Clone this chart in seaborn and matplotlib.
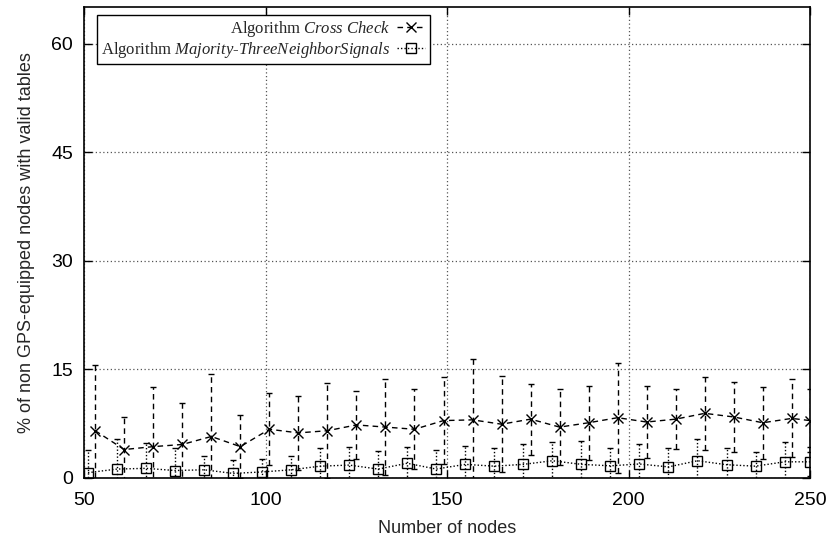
"""   Percentage of non GPS-equipped nodes with valid tables vs. number of nodes   """
import matplotlib
matplotlib.use('Agg')
import matplotlib.pyplot as plt
import numpy as np
import pandas as pd
import seaborn as sns


# ~~~~~~~  Data  ~~~~~~~ ~~~~~~~~~~~~~ ~~~~~~~ ~ #
x_cross = [53, 61, 69, 77, 85, 93, 101, 109, 117, 125, 133, 141, 149,
           157, 165, 173, 181, 189, 197, 205, 213, 221, 229, 237, 245, 250]
cross_mean = [6.5, 3.9, 4.3, 4.6, 5.7, 4.3, 6.7, 6.2, 6.5, 7.3, 7.0, 6.7, 7.9,
              8.0, 7.4, 8.1, 7.0, 7.6, 8.3, 7.7, 8.1, 8.9, 8.4, 7.6, 8.2, 7.9]
cross_sd = [9.1, 4.5, 8.2, 5.7, 8.7, 4.4, 5.0, 5.1, 6.6, 4.7, 6.6, 5.5, 6.0,
            8.4, 6.6, 4.9, 5.2, 5.1, 7.6, 5.0, 4.1, 5.0, 4.9, 5.0, 5.4, 4.3]

x_major = [51, 59, 67, 75, 83, 91, 99, 107, 115, 123, 131, 139, 147,
           155, 163, 171, 179, 187, 195, 203, 211, 219, 227, 235, 243, 250]
major_mean = [0.7, 1.2, 1.3, 1.0, 1.1, 0.6, 0.8, 1.1, 1.6, 1.75, 1.2, 2.0, 1.2,
              1.85, 1.6, 1.85, 2.35, 1.85, 1.65, 1.9, 1.5, 2.35, 1.8, 1.6, 2.2, 2.2]
major_sd = [3.1, 4.1, 3.5, 3.1, 1.9, 1.8, 1.8, 1.9, 2.5, 2.55, 2.5, 2.3, 2.6,
            2.55, 2.5, 2.75, 2.65, 3.25, 2.45, 2.75, 2.55, 3.0, 2.35, 2.0, 2.8, 2.0]

label_cross = r'Algorithm $\mathit{Cross\ Check}$'
label_major = r'Algorithm $\mathit{Majority}$-$\mathit{ThreeNeighborSignals}$'

x_ticks = [50, 100, 150, 200, 250]
y_ticks = [0, 15, 30, 45, 60]


# ~~~~~~~  Style  ~~~~~~~ ~~~~~~~~~~~~~ ~~~~~~~ ~ #
sns.set_style('ticks')
plt.rcParams['font.family'] = ['Liberation Sans', 'DejaVu Sans']
plt.rcParams['mathtext.fontset'] = 'custom'
plt.rcParams['mathtext.rm'] = 'Liberation Serif'
plt.rcParams['mathtext.it'] = 'Liberation Serif:italic'

fig = plt.figure(figsize=(8.35, 5.46), dpi=100)
ax = fig.add_axes([0.101, 0.125, 0.869, 0.8615])

df_cross = pd.DataFrame({'x': x_cross, 'y': cross_mean})
df_major = pd.DataFrame({'x': x_major, 'y': major_mean})

# error bars first (drawn under the lines)
eb = ax.errorbar(x_cross, cross_mean, yerr=cross_sd, fmt='none', ecolor='black',
                 elinewidth=1, capsize=2.5, capthick=1)
eb.lines[2][0].set_linestyle((0, (4, 3)))
eb = ax.errorbar(x_major, major_mean, yerr=major_sd, fmt='none', ecolor='black',
                 elinewidth=1, capsize=2.5, capthick=1)
eb.lines[2][0].set_linestyle((0, (1, 1.5)))

# mean lines
sns.lineplot(data=df_cross, x='x', y='y', ax=ax, color='black', marker='x',
             markersize=7, markeredgecolor='black', markeredgewidth=1,
             linewidth=1, label=label_cross)
sns.lineplot(data=df_major, x='x', y='y', ax=ax, color='black', marker='s',
             markersize=7, markerfacecolor='none', markeredgecolor='black',
             markeredgewidth=1, linewidth=1, label=label_major)
ax.lines[-2].set_linestyle((0, (4, 3)))
ax.lines[-1].set_linestyle((0, (1, 1.5)))

ax.set_xlim(50, 250)
ax.set_ylim(0, 65)
ax.set_xticks(x_ticks)
ax.set_yticks(y_ticks)
ax.tick_params(direction='in', top=True, right=True, length=6, width=1,
               labelsize=14, colors='black')
ax.tick_params(axis='y', pad=8)
ax.tick_params(axis='x', pad=10)
for spine in ax.spines.values():
    spine.set_visible(True)
    spine.set_linewidth(1.2)
    spine.set_color('black')

ax.grid(True, linestyle=(0, (1, 2)), color='#555555', linewidth=0.9)
ax.set_axisbelow(True)

ax.set_xlabel('Number of nodes', fontsize=13, labelpad=8)
ax.set_ylabel('% of non GPS-equipped nodes with valid tables', fontsize=13, labelpad=12)

leg = ax.legend(loc='upper left', bbox_to_anchor=(0.0175, 0.984), borderaxespad=0,
                markerfirst=False, frameon=True, fancybox=False, framealpha=1,
                edgecolor='black', handlelength=1.7, handletextpad=0.4,
                labelspacing=0.05, borderpad=0.25,
                prop={'family': 'Liberation Serif', 'size': 12})
leg.get_frame().set_linewidth(1)

fig.savefig('out.png', dpi=100)
